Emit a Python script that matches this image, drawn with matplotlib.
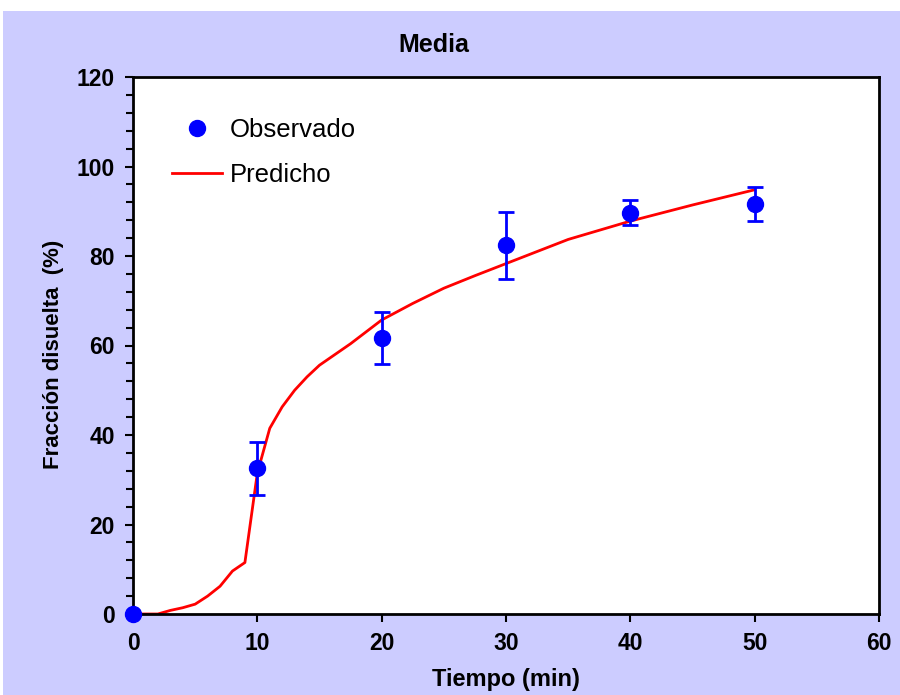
import matplotlib
matplotlib.use("Agg")
import matplotlib.pyplot as plt
from matplotlib.ticker import MultipleLocator
from matplotlib.lines import Line2D

plt.rcParams['font.family'] = ['Liberation Sans', 'DejaVu Sans']

# Observed data
obs_t = [0, 10, 20, 30, 40, 50]
obs_y = [0, 32.6, 61.7, 82.4, 89.7, 91.6]
obs_err = [0, 5.9, 5.8, 7.5, 2.8, 3.8]

# Predicted curve
pred_t = [0, 1, 2, 3, 4, 5, 6, 7, 8, 9, 10, 11, 12, 13, 14, 15, 17.5, 20,
          22.5, 25, 27.5, 30, 35, 40, 45, 50]
pred_y = [0, 0, 0, 0.8, 1.4, 2.2, 4.0, 6.2, 9.6, 11.5, 31.5, 41.5, 46.3, 50.0,
          53.0, 55.6, 60.4, 65.7, 69.4, 72.8, 75.6, 78.3, 83.7, 87.8, 91.4, 94.8]

x_ticks = [0, 10, 20, 30, 40, 50, 60]
y_ticks = [0, 20, 40, 60, 80, 100, 120]

bg = '#CCCCFF'
fig = plt.figure(figsize=(9, 6.95), dpi=100)
fig.patch.set_facecolor('white')
fig.patches.append(plt.Rectangle((3/900, 0), 1, 1 - 11/695, transform=fig.transFigure,
                                 facecolor=bg, edgecolor='none', zorder=-10))

ax = fig.add_axes([133/900, 81/695, (879-133)/900, (614-77)/695])
ax.set_facecolor('white')

ax.plot(pred_t, pred_y, color='red', lw=2, zorder=2)
ax.errorbar(obs_t, obs_y, yerr=obs_err, fmt='o', color='blue', ms=11.5,
            ecolor='blue', elinewidth=2, capsize=5.5, capthick=2,
            zorder=3, clip_on=False)

ax.set_xlim(0, 60)
ax.set_ylim(0, 120)
ax.set_xticks(x_ticks)
ax.set_yticks(y_ticks)
ax.yaxis.set_minor_locator(MultipleLocator(4))

for s in ax.spines.values():
    s.set_linewidth(2)
    s.set_color('black')

ax.tick_params(axis='both', which='major', direction='out', length=6, width=1.5,
               labelsize=16.5, pad=7)
ax.tick_params(axis='y', which='minor', direction='out', length=5, width=1.5)
for lbl in ax.get_xticklabels() + ax.get_yticklabels():
    lbl.set_fontweight('bold')

ax.set_xlabel('Tiempo (min)', fontsize=17, fontweight='bold', labelpad=9)
ax.set_ylabel('Fracción disuelta  (%)', fontsize=16, fontweight='bold')
ax.yaxis.set_label_coords(-0.093, 0.484)

fig.text(434/900, 1 - 45/695, 'Media', ha='center', va='center',
         fontsize=18, fontweight='bold')

h_obs = Line2D([], [], marker='o', color='blue', ls='none', ms=11.5)
h_pred = Line2D([], [], color='red', lw=2)
leg = ax.legend([h_obs, h_pred], ['Observado', 'Predicho'],
                loc='upper left', bbox_to_anchor=(172/900, 1 - 118/695),
                bbox_transform=fig.transFigure, frameon=False,
                fontsize=18.5, handlelength=1.95, handletextpad=0.3,
                labelspacing=0.82, borderaxespad=0, borderpad=0)

fig.savefig('out.png', dpi=100, facecolor=fig.get_facecolor())
